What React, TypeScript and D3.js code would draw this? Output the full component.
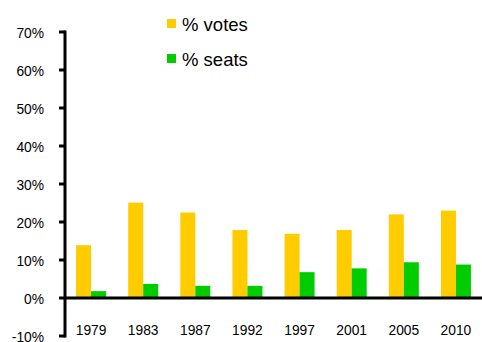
import React from "react";
import * as d3 from "d3";

const years = ["1979", "1983", "1987", "1992", "1997", "2001", "2005", "2010"];
const votes = [13.9, 25.1, 22.5, 17.9, 16.9, 17.9, 22.0, 23.0];
const seats = [1.8, 3.7, 3.2, 3.2, 6.8, 7.8, 9.4, 8.8];
const yTicks = [-10, 0, 10, 20, 30, 40, 50, 60, 70];
const seriesNames = ["% votes", "% seats"];
const colors = ["#FFCC00", "#00CC00"];

export default function App() {
  const W = 482, H = 342;
  const axisX = 65;
  const y = d3.scaleLinear().domain([-10, 70]).range([336, 32]);
  const x = d3.scaleBand<string>().domain(years).range([axisX, 482]).paddingInner(0).paddingOuter(0);
  const bw = x.bandwidth();
  const barW = 15;
  const font = "Liberation Sans, Arial, sans-serif";
  const series = [votes, seats];
  return (
    <svg width={W} height={H} style={{ position: "absolute", left: 0, top: 0 }}>
      <rect width={W} height={H} fill="#fff" />
      {series.map((vals, si) =>
        vals.map((v, i) => {
          const cx = (x(years[i]) as number) + bw / 2;
          const left = cx - barW + si * barW;
          return (
            <rect key={si + "-" + i} x={left} y={y(v)} width={barW} height={y(0) - y(v)} fill={colors[si]} />
          );
        })
      )}
      <line x1={axisX} x2={482} y1={y(0)} y2={y(0)} stroke="#000" strokeWidth={3} />
      <line x1={axisX} x2={axisX} y1={y(70) - 1.5} y2={y(-10) + 1.5} stroke="#000" strokeWidth={3} />
      {yTicks.map((t) => (
        <g key={t}>
          <line x1={59} x2={axisX} y1={y(t)} y2={y(t)} stroke="#000" strokeWidth={3} />
          <text x={44} y={y(t) + 1.5} dy="0.36em" textAnchor="end" fontFamily={font} fontSize={13.8} fill="#000">
            {t + "%"}
          </text>
        </g>
      ))}
      {years.map((yr) => (
        <text key={yr} x={(x(yr) as number) + bw / 2} y={330} dy="0.36em" textAnchor="middle" fontFamily={font} fontSize={13.8} fill="#000">
          {yr}
        </text>
      ))}
      {seriesNames.map((n, i) => (
        <g key={n}>
          <rect x={167} y={19 + i * 35} width={9} height={9} fill={colors[i]} />
          <text x={182} y={24 + i * 35.5} dy="0.36em" fontFamily={font} fontSize={18.5} fill="#000">
            {n}
          </text>
        </g>
      ))}
    </svg>
  );
}
